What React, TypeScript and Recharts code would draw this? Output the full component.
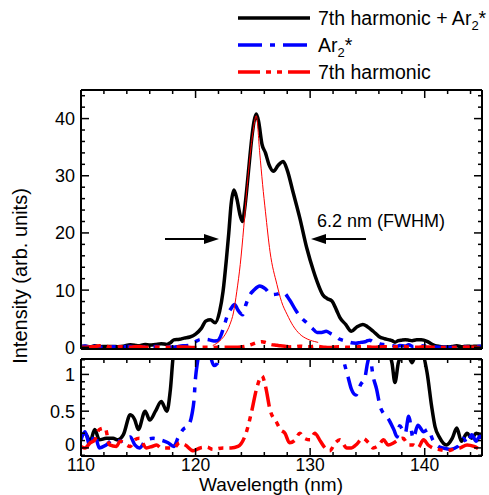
import React from 'react';
import { LineChart, Line, XAxis, YAxis } from 'recharts';

// ---------- data ----------
const combined: { x: number; y: number }[] = [
  { x: 110.0, y: 0.15 }, { x: 110.35, y: 0.2 }, { x: 110.8, y: 0.09 }, { x: 111.2, y: 0.25 },
  { x: 111.6, y: 0.11 }, { x: 112.2, y: 0.13 }, { x: 112.8, y: 0.13 }, { x: 113.2, y: 0.11 },
  { x: 113.7, y: 0.18 }, { x: 114.3, y: 0.45 }, { x: 114.7, y: 0.38 }, { x: 115.0, y: 0.25 },
  { x: 115.6, y: 0.5 }, { x: 116.0, y: 0.38 }, { x: 116.5, y: 0.5 }, { x: 117.0, y: 0.63 },
  { x: 117.5, y: 0.5 }, { x: 117.8, y: 0.79 }, { x: 118.1, y: 1.3 }, { x: 118.6, y: 1.4 },
  { x: 119.0, y: 1.6 }, { x: 119.5, y: 1.8 }, { x: 120.0, y: 2.3 }, { x: 120.5, y: 3.3 },
  { x: 120.9, y: 4.6 }, { x: 121.3, y: 4.8 }, { x: 121.7, y: 4.3 }, { x: 122.1, y: 6.3 },
  { x: 122.4, y: 9.8 }, { x: 122.7, y: 15.6 }, { x: 122.9, y: 20 }, { x: 123.1, y: 25 },
  { x: 123.35, y: 27.5 }, { x: 123.6, y: 26 }, { x: 123.9, y: 23 }, { x: 124.1, y: 22 },
  { x: 124.3, y: 24.5 }, { x: 124.5, y: 28.3 }, { x: 124.7, y: 32.5 }, { x: 124.9, y: 36.5 },
  { x: 125.1, y: 39.5 }, { x: 125.3, y: 40.8 }, { x: 125.5, y: 39.5 }, { x: 125.8, y: 35.5 },
  { x: 126.1, y: 34 }, { x: 126.4, y: 32 }, { x: 126.8, y: 30.8 }, { x: 127.2, y: 31.8 },
  { x: 127.65, y: 32.5 }, { x: 128.0, y: 31 }, { x: 128.5, y: 27.2 }, { x: 129.1, y: 22.6 },
  { x: 129.7, y: 17.4 }, { x: 130.3, y: 13.3 }, { x: 130.7, y: 11 }, { x: 131.1, y: 9.2 },
  { x: 131.5, y: 8.5 }, { x: 131.9, y: 8.1 }, { x: 132.3, y: 6.5 }, { x: 132.6, y: 5.2 },
  { x: 133.1, y: 4 }, { x: 133.6, y: 2.8 }, { x: 134.1, y: 3.6 }, { x: 134.6, y: 4.0 },
  { x: 135.0, y: 3.6 }, { x: 135.5, y: 2.8 }, { x: 136.0, y: 1.9 }, { x: 136.5, y: 1.5 },
  { x: 136.9, y: 1.3 }, { x: 137.15, y: 1.15 }, { x: 137.4, y: 0.89 }, { x: 137.7, y: 1.16 },
  { x: 138.0, y: 1.25 }, { x: 138.3, y: 1.3 }, { x: 138.6, y: 1.25 }, { x: 138.9, y: 1.16 },
  { x: 139.3, y: 1.3 }, { x: 139.7, y: 1.3 }, { x: 140.2, y: 1.03 }, { x: 140.6, y: 0.57 },
  { x: 140.9, y: 0.29 }, { x: 141.3, y: 0.14 }, { x: 141.9, y: 0.04 }, { x: 142.4, y: 0.13 },
  { x: 142.8, y: 0.27 }, { x: 143.2, y: 0.09 }, { x: 143.7, y: 0.2 }, { x: 144.1, y: 0.13 },
  { x: 144.5, y: 0.2 }, { x: 145.0, y: 0.15 },
];

const ar2: { x: number; y: number }[] = [
  { x: 110.0, y: 0.11 }, { x: 110.35, y: 0.22 }, { x: 110.8, y: 0.02 }, { x: 111.2, y: 0.18 },
  { x: 111.6, y: 0.0 }, { x: 112.2, y: 0.04 }, { x: 112.8, y: 0.11 }, { x: 113.5, y: 0.09 },
  { x: 114.3, y: 0.15 }, { x: 114.7, y: 0.04 }, { x: 115.1, y: 0.0 }, { x: 115.7, y: 0.11 },
  { x: 116.3, y: 0.13 }, { x: 116.9, y: 0.11 }, { x: 117.6, y: 0.07 }, { x: 118.1, y: 0.02 },
  { x: 118.5, y: 0.15 }, { x: 118.9, y: 0.25 }, { x: 119.4, y: 0.31 }, { x: 119.7, y: 0.47 },
  { x: 119.85, y: 0.63 }, { x: 120.0, y: 0.96 }, { x: 120.15, y: 1.15 }, { x: 120.4, y: 1.35 },
  { x: 120.8, y: 1.4 }, { x: 121.2, y: 1.3 }, { x: 121.6, y: 1.12 }, { x: 121.9, y: 1.15 },
  { x: 122.2, y: 2.0 }, { x: 122.5, y: 3.8 }, { x: 122.8, y: 5.7 }, { x: 123.1, y: 6.8 },
  { x: 123.4, y: 7.5 }, { x: 123.7, y: 6.5 }, { x: 124.1, y: 5.7 }, { x: 124.4, y: 7.5 },
  { x: 124.75, y: 9.2 }, { x: 125.1, y: 10.0 }, { x: 125.6, y: 10.7 }, { x: 126.1, y: 10.2 },
  { x: 126.6, y: 9.2 }, { x: 127.1, y: 9.3 }, { x: 127.65, y: 9.6 }, { x: 128.2, y: 8.3 },
  { x: 128.8, y: 6.3 }, { x: 129.3, y: 5.0 }, { x: 129.7, y: 4.3 }, { x: 130.2, y: 3.3 },
  { x: 130.6, y: 2.6 }, { x: 131.0, y: 2.6 }, { x: 131.4, y: 2.8 }, { x: 131.8, y: 2.4 },
  { x: 132.2, y: 2.0 }, { x: 132.6, y: 1.4 }, { x: 132.9, y: 1.2 }, { x: 133.3, y: 0.97 },
  { x: 133.6, y: 0.8 }, { x: 134.0, y: 0.72 }, { x: 134.4, y: 0.86 }, { x: 134.8, y: 0.97 },
  { x: 135.0, y: 1.15 }, { x: 135.2, y: 1.25 }, { x: 135.5, y: 0.97 }, { x: 135.8, y: 0.8 },
  { x: 136.1, y: 0.57 }, { x: 136.4, y: 0.47 }, { x: 136.8, y: 0.4 }, { x: 137.3, y: 0.25 },
  { x: 137.6, y: 0.15 }, { x: 137.8, y: 0.3 }, { x: 138.3, y: 0.2 }, { x: 138.6, y: 0.43 },
  { x: 139.0, y: 0.13 }, { x: 139.4, y: 0.31 }, { x: 139.9, y: 0.22 }, { x: 140.3, y: 0.25 },
  { x: 140.7, y: 0.11 }, { x: 141.2, y: 0.02 }, { x: 141.6, y: 0.0 }, { x: 142.2, y: -0.02 },
  { x: 142.9, y: 0.02 }, { x: 143.4, y: 0.13 }, { x: 143.7, y: 0.06 }, { x: 144.1, y: 0.18 },
  { x: 144.5, y: 0.09 }, { x: 144.8, y: 0.16 }, { x: 145.0, y: 0.12 },
];

const harmonic7: { x: number; y: number }[] = [
  { x: 110.0, y: 0.02 }, { x: 110.35, y: 0.0 }, { x: 110.8, y: 0.07 }, { x: 111.2, y: 0.11 },
  { x: 111.6, y: 0.25 }, { x: 112.1, y: 0.27 }, { x: 112.5, y: 0.04 }, { x: 113.1, y: 0.02 },
  { x: 113.4, y: 0.09 }, { x: 114.3, y: 0.02 }, { x: 114.7, y: 0.11 }, { x: 115.1, y: 0.13 },
  { x: 115.7, y: 0.0 }, { x: 116.2, y: 0.02 }, { x: 116.6, y: 0.04 }, { x: 117.0, y: 0.0 },
  { x: 117.5, y: 0.0 }, { x: 118.1, y: 0.0 }, { x: 118.6, y: 0.07 }, { x: 119.1, y: 0.04 },
  { x: 119.8, y: -0.04 }, { x: 120.4, y: 0.0 }, { x: 121.0, y: 0.01 }, { x: 121.5, y: -0.02 },
  { x: 122.4, y: 0.0 }, { x: 123.1, y: 0.0 }, { x: 123.7, y: 0.02 }, { x: 124.4, y: 0.2 },
  { x: 124.9, y: 0.5 }, { x: 125.3, y: 0.79 }, { x: 125.8, y: 0.98 }, { x: 126.1, y: 0.84 },
  { x: 126.5, y: 0.52 }, { x: 127.1, y: 0.34 }, { x: 127.4, y: 0.25 }, { x: 127.8, y: 0.2 },
  { x: 128.2, y: 0.07 }, { x: 128.7, y: 0.11 }, { x: 129.1, y: 0.2 }, { x: 129.5, y: 0.13 },
  { x: 130.0, y: 0.11 }, { x: 130.4, y: 0.2 }, { x: 130.9, y: 0.09 }, { x: 131.3, y: 0.0 },
  { x: 131.7, y: -0.04 }, { x: 132.2, y: 0.07 }, { x: 132.6, y: 0.11 }, { x: 133.2, y: 0.0 },
  { x: 133.6, y: 0.0 }, { x: 134.0, y: 0.04 }, { x: 134.6, y: 0.13 }, { x: 135.1, y: 0.07 },
  { x: 135.5, y: 0.0 }, { x: 136.0, y: 0.04 }, { x: 136.4, y: 0.11 }, { x: 136.8, y: 0.04 },
  { x: 137.3, y: 0.07 }, { x: 137.7, y: 0.11 }, { x: 138.1, y: 0.13 }, { x: 138.6, y: 0.04 },
  { x: 139.0, y: 0.04 }, { x: 139.4, y: 0.0 }, { x: 139.9, y: 0.11 }, { x: 140.3, y: 0.04 },
  { x: 140.7, y: 0.0 }, { x: 141.2, y: -0.02 }, { x: 141.9, y: -0.04 }, { x: 142.5, y: -0.02 },
  { x: 143.1, y: 0.0 }, { x: 143.7, y: 0.04 }, { x: 144.3, y: 0.02 }, { x: 144.8, y: -0.02 },
];

const harmonicFit: { x: number; y: number }[] = [
  { x: 121.5, y: 0.3 }, { x: 122.1, y: 1.1 }, { x: 122.6, y: 2.3 }, { x: 123.0, y: 4.0 },
  { x: 123.3, y: 6.0 }, { x: 123.6, y: 9.8 }, { x: 123.9, y: 14.5 }, { x: 124.2, y: 20.9 },
  { x: 124.45, y: 27 }, { x: 124.7, y: 32.4 }, { x: 125.0, y: 37.5 }, { x: 125.3, y: 40.5 },
  { x: 125.6, y: 34 }, { x: 125.85, y: 28.5 }, { x: 126.1, y: 23.7 }, { x: 126.5, y: 16.7 },
  { x: 127.1, y: 11 }, { x: 127.5, y: 8 }, { x: 128.0, y: 5.7 }, { x: 128.5, y: 3.8 },
  { x: 129.1, y: 2.3 }, { x: 129.8, y: 1.4 }, { x: 130.6, y: 0.9 }, { x: 130.7, y: 0.85 },
];

const xMajor = [110, 120, 130, 140];
const xMinor = [112, 114, 116, 118, 122, 124, 126, 128, 132, 134, 136, 138, 142, 144];
const topYMajor = [0, 10, 20, 30, 40];
const topYMinor = [2, 4, 6, 8, 12, 14, 16, 18, 22, 24, 26, 28, 32, 34, 36, 38, 42, 44];
const botYMajor = [0, 0.5, 1];
const botYMinor = [-0.1, 0.1, 0.2, 0.3, 0.4, 0.6, 0.7, 0.8, 0.9, 1.1, 1.2];

const legendLabels = ['7th harmonic + Ar', 'Ar', '7th harmonic'];
const fwhmText = '6.2 nm (FWHM)';

// ---------- styling ----------
const FONT = '"Liberation Sans", Arial, sans-serif';
const W = 489;
const H = 495;
const MAJ = 8;
const MIN = 4;
const FRAME = { stroke: '#000', strokeWidth: 2 };
const TICK_FS = 17.5;

const fmtNum = (v: number) => String(v);

function makeTick(
  side: 'left' | 'right' | 'top' | 'bottom',
  majors: number[],
  labels: boolean,
  zeroLift = 0
) {
  return (props: any) => {
    const { x, y, payload } = props;
    const v = payload.value;
    const isMajor = majors.some((m) => Math.abs(m - v) < 1e-9);
    const len = isMajor ? MAJ : MIN;
    let line;
    if (side === 'left') line = <line x1={x} y1={y} x2={x + len} y2={y} stroke="#000" strokeWidth={1.5} />;
    else if (side === 'right') line = <line x1={x} y1={y} x2={x - len} y2={y} stroke="#000" strokeWidth={1.5} />;
    else if (side === 'top') line = <line x1={x} y1={y} x2={x} y2={y + len} stroke="#000" strokeWidth={1.5} />;
    else line = <line x1={x} y1={y} x2={x} y2={y - len} stroke="#000" strokeWidth={1.5} />;
    let label = null;
    if (labels && isMajor) {
      if (side === 'left')
        label = (
          <text
            x={x - 6}
            y={v === 0 ? y - zeroLift : y}
            dy="0.36em"
            textAnchor="end"
            fontSize={TICK_FS + 0.5}
            fontFamily={FONT}
            fill="#000"
          >
            {fmtNum(v)}
          </text>
        );
      else if (side === 'bottom')
        label = (
          <text x={x} y={y + 9} dy="0.36em" textAnchor="middle" fontSize={TICK_FS} fontFamily={FONT} fill="#000">
            {fmtNum(v)}
          </text>
        );
    }
    return (
      <g>
        {line}
        {label}
      </g>
    );
  };
}

const xTicks = [...xMajor, ...xMinor].sort((a, b) => a - b);

function Panel(props: {
  marginTop: number;
  marginBottom: number;
  yDomain: [number, number];
  yMajor: number[];
  yMinor: number[];
  xLabels: boolean;
  withFit: boolean;
  zeroLift: number;
}) {
  const { marginTop, marginBottom, yDomain, yMajor, yMinor, xLabels, withFit, zeroLift } = props;
  const yTicks = [...yMajor, ...yMinor].sort((a, b) => a - b);
  return (
    <LineChart
      width={W}
      height={H}
      margin={{ top: marginTop, right: 6, bottom: marginBottom, left: 80 }}
      style={{ position: 'absolute', left: 0, top: 0 }}
    >
      <XAxis
        xAxisId="b"
        type="number"
        dataKey="x"
        domain={[110, 145]}
        allowDataOverflow
        ticks={xTicks}
        interval={0}
        orientation="bottom"
        height={1}
        tickSize={0}
        tickMargin={0}
        tickLine={false}
        axisLine={FRAME}
        tick={makeTick('bottom', xMajor, xLabels)}
      />
      <XAxis
        xAxisId="t"
        type="number"
        dataKey="x"
        domain={[110, 145]}
        allowDataOverflow
        ticks={xTicks}
        interval={0}
        orientation="top"
        height={1}
        tickSize={0}
        tickMargin={0}
        tickLine={false}
        axisLine={FRAME}
        tick={makeTick('top', xMajor, false)}
      />
      <YAxis
        yAxisId="l"
        type="number"
        domain={yDomain}
        allowDataOverflow
        ticks={yTicks}
        interval={0}
        orientation="left"
        width={1}
        tickSize={0}
        tickMargin={0}
        tickLine={false}
        axisLine={FRAME}
        tick={makeTick('left', yMajor, true, zeroLift)}
      />
      <YAxis
        yAxisId="r"
        type="number"
        domain={yDomain}
        allowDataOverflow
        ticks={yTicks}
        interval={0}
        orientation="right"
        width={1}
        tickSize={0}
        tickMargin={0}
        tickLine={false}
        axisLine={FRAME}
        tick={makeTick('right', yMajor, false)}
      />
      <Line
        xAxisId="b"
        yAxisId="l"
        data={combined}
        dataKey="y"
        type="monotone"
        stroke="#000"
        strokeWidth={3.5}
        dot={false}
        isAnimationActive={false}
      />
      <Line
        xAxisId="b"
        yAxisId="l"
        data={ar2}
        dataKey="y"
        type="monotone"
        stroke="#0000ff"
        strokeWidth={3.5}
        strokeDasharray="22 8 5 8"
        dot={false}
        isAnimationActive={false}
      />
      <Line
        xAxisId="b"
        yAxisId="l"
        data={harmonic7}
        dataKey="y"
        type="monotone"
        stroke="#ff0000"
        strokeWidth={3.5}
        strokeDasharray="20 6 5 6 5 6"
        dot={false}
        isAnimationActive={false}
      />
      {withFit && (
        <Line
          xAxisId="b"
          yAxisId="l"
          data={harmonicFit}
          dataKey="y"
          type="monotone"
          stroke="#ff0000"
          strokeWidth={1}
          dot={false}
          isAnimationActive={false}
        />
      )}
    </LineChart>
  );
}

function Overlay() {
  const legendRows = [
    { y: 18, stroke: '#000', dash: undefined as string | undefined },
    { y: 45, stroke: '#0000ff', dash: '24 8 5 8' },
    { y: 72, stroke: '#ff0000', dash: '22 6 5 6 5 6' },
  ];
  return (
    <svg width={W} height={H} style={{ position: 'absolute', left: 0, top: 0, pointerEvents: 'none' }}>
      {legendRows.map((r, i) => (
        <line key={i} x1={238} y1={r.y} x2={310} y2={r.y} stroke={r.stroke} strokeWidth={3.5} strokeDasharray={r.dash} />
      ))}
      <text x={318} y={18} dy="0.36em" fontSize={19.5} fontFamily={FONT} fill="#000">
        {legendLabels[0]}
        <tspan dy={5} fontSize={13}>2</tspan>
        <tspan dy={-5}>*</tspan>
      </text>
      <text x={318} y={45} dy="0.36em" fontSize={19.5} fontFamily={FONT} fill="#000">
        {legendLabels[1]}
        <tspan dy={5} fontSize={13}>2</tspan>
        <tspan dy={-5}>*</tspan>
      </text>
      <text x={318} y={72} dy="0.36em" fontSize={19.5} fontFamily={FONT} fill="#000">
        {legendLabels[2]}
      </text>

      {/* FWHM arrows */}
      <line x1={165} y1={239} x2={206} y2={239} stroke="#000" strokeWidth={2} />
      <polygon points="219,239 204,234 204,244" fill="#000" />
      <line x1={324} y1={239} x2={366} y2={239} stroke="#000" strokeWidth={2} />
      <polygon points="311,239 326,234 326,244" fill="#000" />
      <text x={317} y={221} dy="0.36em" fontSize={18} fontFamily={FONT} fill="#000">
        {fwhmText}
      </text>

      {/* axis titles */}
      <text x={271} y={491} textAnchor="middle" fontSize={19} fontFamily={FONT} fill="#000">
        Wavelength (nm)
      </text>
      <text
        x={20}
        y={276}
        dy="0.36em"
        textAnchor="middle"
        fontSize={20}
        fontFamily={FONT}
        fill="#000"
        transform="rotate(-90 20 276)"
      >
        Intensity (arb. units)
      </text>
    </svg>
  );
}

export default function App() {
  return (
    <div style={{ position: 'absolute', left: 0, top: 0, width: W, height: H, background: '#fff' }}>
      <Panel
        marginTop={89}
        marginBottom={H - 349 - 1}
        yDomain={[-0.3, 45]}
        yMajor={topYMajor}
        yMinor={topYMinor}
        xLabels={false}
        withFit={true}
        zeroLift={0}
      />
      <Panel
        marginTop={358}
        marginBottom={H - 456 - 1}
        yDomain={[-0.11, 1.21]}
        yMajor={botYMajor}
        yMinor={botYMinor}
        xLabels={true}
        withFit={false}
        zeroLift={3}
      />
      <Overlay />
    </div>
  );
}
